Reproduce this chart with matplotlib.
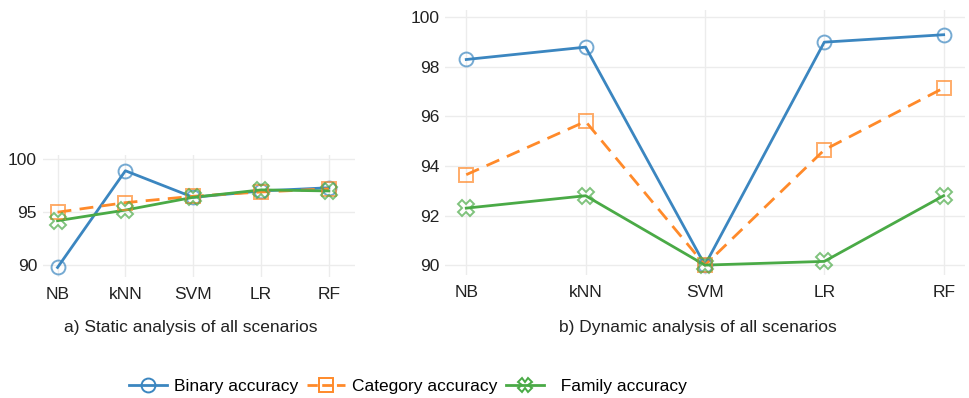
import matplotlib.pyplot as plt
from matplotlib.lines import Line2D

plt.rcParams['font.family'] = ['Liberation Sans', 'DejaVu Sans']

classifiers = ['NB', 'kNN', 'SVM', 'LR', 'RF']

# static analysis
static_binary = [89.8, 98.9, 96.4, 97.0, 97.3]
static_category = [95.0, 95.9, 96.5, 96.9, 97.2]
static_family = [94.2, 95.2, 96.4, 97.1, 97.0]

# dynamic analysis
dynamic_binary = [98.3, 98.8, 90.0, 99.0, 99.3]
dynamic_category = [93.65, 95.8, 90.0, 94.65, 97.15]
dynamic_family = [92.3, 92.8, 90.0, 90.15, 92.8]

series_names = ['Binary accuracy', 'Category accuracy', '  Family accuracy']
colors = ['#3b86c0', '#ff8a2a', '#4aaa46']
styles = [('o', '-'), ('s', '--'), ('X', '-')]
grid_col = '#ececec'
fs = 12.5

fig = plt.figure(figsize=(9.69, 3.98), dpi=100)
ax1 = fig.add_axes([0.044, 0.304, 0.322, 0.307])
ax2 = fig.add_axes([0.459, 0.309, 0.537, 0.666])


def draw(ax, data, yticks, ylim, xlim):
    x = range(len(classifiers))
    for vals, col, (mk, ls) in zip(data, colors, styles):
        ax.plot(x, vals, color=col, linestyle=ls, linewidth=2,
                dashes=(5, 3) if ls == '--' else (None, None), zorder=3)
        ax.plot(x, vals, linestyle='none', marker=mk, markersize=10 if mk != 'X' else 11,
                markerfacecolor='none', markeredgecolor=col, markeredgewidth=1.4,
                alpha=0.7, zorder=4)
    ax.set_xticks(list(x))
    ax.set_xticklabels(classifiers)
    ax.set_yticks(yticks)
    ax.set_ylim(*ylim)
    ax.set_xlim(*xlim)
    ax.grid(True, color=grid_col, linewidth=1)
    ax.set_axisbelow(True)
    for s in ax.spines.values():
        s.set_visible(False)
    ax.tick_params(length=0, labelsize=fs, colors='#222222')
    ax.tick_params(axis='x', pad=7)
    ax.tick_params(axis='y', pad=4)


draw(ax1, [static_binary, static_category, static_family],
     [90, 95, 100], (88.9, 100.4), (-0.22, 4.38))
draw(ax2, [dynamic_binary, dynamic_category, dynamic_family],
     [90, 92, 94, 96, 98, 100], (89.6, 100.3), (-0.18, 4.18))

fig.text(0.197, 0.176, 'a) Static analysis of all scenarios', ha='center', va='center',
         fontsize=fs, color='#222222')
fig.text(0.72, 0.176, 'b) Dynamic analysis of all scenarios', ha='center', va='center',
         fontsize=fs, color='#222222')

handles = []
for col, (mk, ls) in zip(colors, styles):
    handles.append(Line2D([], [], color=col, linestyle=ls, linewidth=2,
                          marker=mk, markersize=10, markerfacecolor='none',
                          markeredgecolor=col, markeredgewidth=1.4))
fig.legend(handles, series_names, loc='center', bbox_to_anchor=(0.421, 0.028), ncol=3,
           frameon=False, fontsize=fs, handlelength=2.2, handletextpad=0.4,
           columnspacing=0.5)

fig.savefig('out.png', dpi=100, facecolor='white')
